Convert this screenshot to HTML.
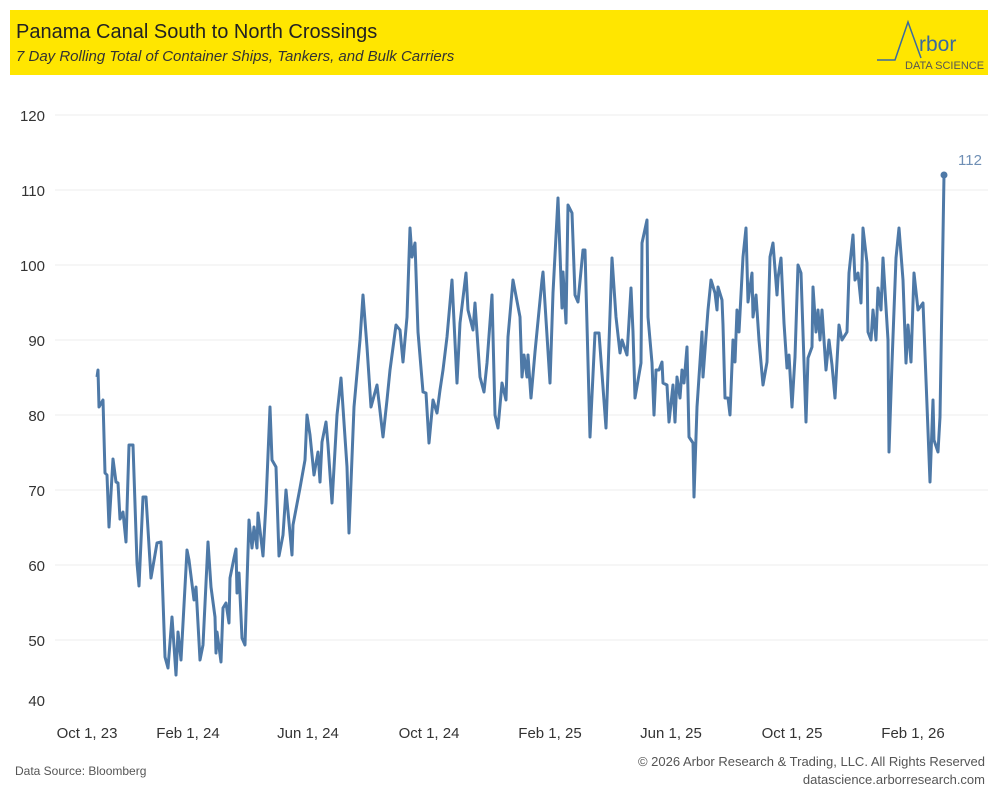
<!DOCTYPE html>
<html><head><meta charset="utf-8"><style>
body{margin:0;width:1000px;height:800px;background:#fff;font-family:"Liberation Sans",sans-serif;position:relative;overflow:hidden}
.hdr{position:absolute;left:10px;top:10px;width:978px;height:65px;background:#ffe600}
.t1{position:absolute;left:6px;top:11px;font-size:20px;color:#222}
.t2{position:absolute;left:6px;top:38px;font-size:15px;font-style:italic;color:#333}
</style></head><body>
<div class="hdr"><div class="t1">Panama Canal South to North Crossings</div><div class="t2">7 Day Rolling Total of Container Ships, Tankers, and Bulk Carriers</div>
<svg style="position:absolute;left:845px;top:8px" width="135" height="55"><polyline points="22,42 40,42 53,4 66,40" fill="none" stroke="#3a6aa0" stroke-width="1.5"/><text x="64" y="33" font-size="21" fill="#3a6aa0" font-family="Liberation Sans">rbor</text><text x="50" y="51" font-size="11" fill="#555" font-family="Liberation Sans">DATA SCIENCE</text></svg></div>
<svg width="1000" height="800" style="position:absolute;left:0;top:0">
<g stroke="#ececec" stroke-width="1">
<line x1="55" x2="988" y1="115" y2="115"/><line x1="55" x2="988" y1="190" y2="190"/><line x1="55" x2="988" y1="265" y2="265"/><line x1="55" x2="988" y1="340" y2="340"/><line x1="55" x2="988" y1="415" y2="415"/><line x1="55" x2="988" y1="490" y2="490"/><line x1="55" x2="988" y1="565" y2="565"/><line x1="55" x2="988" y1="640" y2="640"/>
</g>
<g font-size="15" fill="#333" text-anchor="end" font-family="Liberation Sans">
<text x="45" y="121">120</text><text x="45" y="196">110</text><text x="45" y="271">100</text><text x="45" y="346">90</text><text x="45" y="421">80</text><text x="45" y="496">70</text><text x="45" y="571">60</text><text x="45" y="646">50</text><text x="45" y="706">40</text>
</g>
<g font-size="15" fill="#333" text-anchor="middle" font-family="Liberation Sans">
<text x="87" y="738">Oct 1, 23</text><text x="188" y="738">Feb 1, 24</text><text x="308" y="738">Jun 1, 24</text><text x="429" y="738">Oct 1, 24</text><text x="550" y="738">Feb 1, 25</text><text x="671" y="738">Jun 1, 25</text><text x="792" y="738">Oct 1, 25</text><text x="913" y="738">Feb 1, 26</text>
</g>
<polyline fill="none" stroke="#4e79a7" stroke-width="3" stroke-linejoin="round" points="97,377 98,370 99,407 103,400 105,473 107,475 109,527 113,459 116,482 118,483 120,519 123,512 126,542 129,445 133,445 137,563 139,586 143,497 146,497 151,578 157,543 161,542 165,657 168,668 172,617 176,675 178,632 181,660 187,550 189,560 194,600 196,587 200,660 203,645 208,542 211,587 215,617 216,653 217,632 221,662 223,608 226,603 229,623 230,578 234,558 236,549 237,593 239,573 242,638 245,645 249,520 252,548 254,527 257,548 258,513 263,556 266,503 270,407 272,460 276,467 279,556 283,535 286,490 292,555 293,525 300,488 305,460 307,415 310,435 314,475 318,452 320,482 322,442 326,422 328,445 332,503 337,415 341,378 347,467 349,533 354,407 360,340 363,295 367,347 371,407 377,385 383,437 387,400 390,370 396,325 400,330 403,362 407,317 410,228 412,257 415,243 418,332 423,392 426,393 429,443 433,400 437,413 440,390 443,370 447,337 452,280 457,383 460,323 466,273 468,310 473,330 475,303 480,377 484,392 487,363 492,295 495,415 498,428 502,383 506,400 508,337 513,280 520,317 522,377 524,355 527,377 528,355 531,398 535,352 542,280 543,272 550,383 553,293 558,198 562,308 563,272 566,323 568,205 572,213 575,295 578,302 583,250 585,250 590,437 595,333 599,333 606,428 612,258 616,317 620,353 622,340 627,355 631,288 633,332 635,398 641,363 642,243 647,220 648,317 652,363 654,415 656,370 659,370 662,362 663,383 667,385 669,422 673,385 675,422 677,377 680,398 682,370 684,383 687,347 689,437 693,443 694,497 697,407 702,332 703,377 708,310 711,280 715,293 717,310 718,287 722,300 723,325 725,398 728,398 730,415 733,340 735,362 737,310 739,332 743,257 746,228 748,302 752,273 753,317 756,295 759,340 763,385 767,362 770,257 773,243 777,295 778,278 781,258 784,323 787,368 789,355 792,407 795,357 798,265 801,273 806,422 808,358 812,347 813,287 816,332 818,310 820,340 822,310 826,370 829,340 832,365 835,398 839,325 842,340 847,332 849,273 853,235 855,280 858,273 861,303 863,228 867,263 868,332 871,340 873,310 876,340 878,288 881,310 883,258 888,340 889,452 892,363 896,258 899,228 903,280 906,363 908,325 911,362 914,273 918,310 923,303 930,482 933,400 934,440 938,452 940,417 944,175"/>
<circle cx="944" cy="175" r="3.5" fill="#4e79a7"/>
<text x="958" y="165" font-size="15" fill="#6f8fb5" font-family="Liberation Sans">112</text>
<text x="15" y="775" font-size="12" fill="#555" font-family="Liberation Sans">Data Source: Bloomberg</text>
<text x="985" y="766" font-size="13" fill="#555" text-anchor="end" font-family="Liberation Sans">© 2026 Arbor Research &amp; Trading, LLC. All Rights Reserved</text>
<text x="985" y="784" font-size="13" fill="#555" text-anchor="end" font-family="Liberation Sans">datascience.arborresearch.com</text>
</svg>
</body></html>
